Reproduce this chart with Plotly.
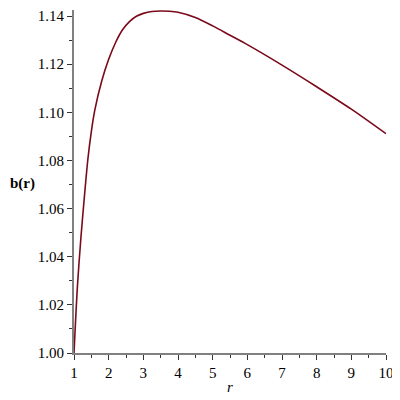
import plotly.graph_objects as go

# values
r = [1.0, 1.1, 1.2, 1.3, 1.4, 1.5, 1.6, 1.8, 2.0, 2.2, 2.4, 2.6, 2.8, 3.0,
     3.25, 3.5, 3.75, 4.0, 4.5, 5.0, 5.5, 6.0, 7.0, 8.0, 9.0, 10.0]
b = [1.000, 1.028, 1.048, 1.065, 1.0805, 1.0920, 1.1009, 1.1130, 1.1220, 1.1290, 1.1343, 1.1377,
     1.1399, 1.1411, 1.1419, 1.1421, 1.1420, 1.1416, 1.1394, 1.1359, 1.1320, 1.1281, 1.1196,
     1.1106, 1.1013, 1.0911]

x_ticks = [1, 2, 3, 4, 5, 6, 7, 8, 9, 10]
y_ticks = [1.00, 1.02, 1.04, 1.06, 1.08, 1.10, 1.12, 1.14]

serif = "Liberation Serif, Times New Roman, serif"

fig = go.Figure()
fig.add_trace(go.Scatter(x=r, y=b, mode="lines",
                         line=dict(color="#7a0a1a", width=1.6, shape="spline", smoothing=0.8),
                         showlegend=False))

axis_common = dict(showgrid=False, zeroline=False, showline=True, linecolor="#808080", linewidth=2,
                   ticks="outside", tickcolor="#333333", ticklen=5, tickwidth=1, automargin=False,
                   ticklabeloverflow="allow",
                   tickfont=dict(family=serif, size=15, color="black"))

fig.update_xaxes(range=[1, 10], tickvals=x_ticks,
                 minor=dict(ticks="outside", dtick=0.5, ticklen=3, tickcolor="#333333"),
                 **axis_common)
fig.update_yaxes(range=[1.0, 1.1425], tickvals=y_ticks, tickformat=".2f",
                 minor=dict(ticks="outside", dtick=0.01, ticklen=3, tickcolor="#333333"),
                 **axis_common)

fig.add_annotation(text="<b>b(r)</b>", xref="paper", yref="paper", x=-0.165, y=0.493,
                   xanchor="center", yanchor="middle",
                   showarrow=False, font=dict(family=serif, size=15, color="black"))
fig.add_annotation(text="<i>r</i>", xref="paper", yref="paper", x=0.5, y=-0.099,
                   xanchor="center", yanchor="middle",
                   showarrow=False, font=dict(family=serif, size=15, color="black"))

# page body adds an 8px offset, so margins are shifted to land the axes where the reference has them
fig.update_layout(width=400, height=400, margin=dict(l=66, r=22, t=2, b=55),
                  plot_bgcolor="white", paper_bgcolor="white")

fig.write_html("out.html")
